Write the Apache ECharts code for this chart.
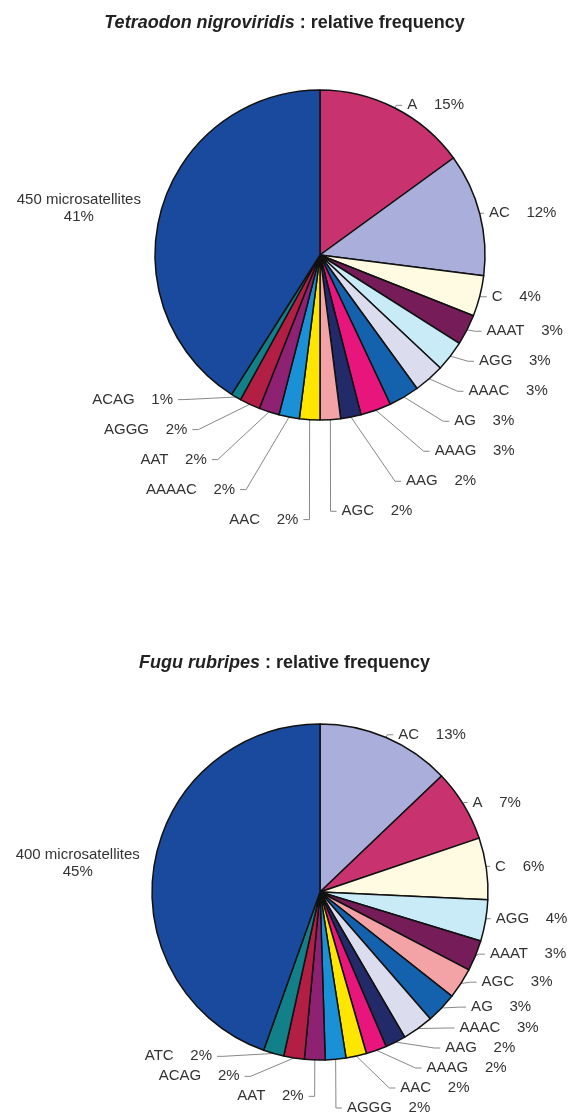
<!DOCTYPE html>
<html>
<head>
<meta charset="utf-8">
<script src="https://cdn.jsdelivr.net/npm/echarts@6/dist/echarts.min.js"></script>
<style>
html,body{margin:0;padding:0;background:#fff;}
#chart{width:569px;height:1118px;}
</style>
</head>
<body>
<div id="chart"></div>
<script>
// Tetraodon nigroviridis (clockwise from 12 o'clock)
const tetraNames = ['A','AC','C','AAAT','AGG','AAAC','AG','AAAG','AAG','AGC','AAC','AAAAC','AAT','AGGG','ACAG','450 microsatellites'];
const tetraValues = [15,12,4,3,3,3,3,3,2,2,2,2,2,2,1,41];
// Fugu rubripes (clockwise from 12 o'clock)
const fuguNames = ['AC','A','C','AGG','AAAT','AGC','AG','AAAC','AAG','AAAG','AAC','AGGG','AAT','ACAG','ATC','400 microsatellites'];
const fuguValues = [13,7,6,4,3,3,3,3,2,2,2,2,2,2,2,45];

const FONT = 'Liberation Sans, Arial, sans-serif';
const colorOf = {
  'A':'#c8326e','AC':'#a9aedb','C':'#fffbe2','AAAT':'#761d59','AGG':'#c9ebf7',
  'AAAC':'#dcdcef','AG':'#1462ae','AAAG':'#e8157c','AAG':'#232a6a','AGC':'#f3a3a6',
  'AAC':'#ffe600','AAAAC':'#1a90d6','AAT':'#8e2171','AGGG':'#b31f44','ACAG':'#128088',
  'ATC':'#128088','big':'#1a4a9e'
};
const fuguColor = Object.assign({}, colorOf, {'AGGG':'#1a90d6','ACAG':'#b31f44','ATC':'#128088'});

function buildData(names, values, cmap){
  return names.map((n,i)=>{
    const big = n.indexOf('microsatellites') >= 0;
    const d = {name:n, value:values[i], itemStyle:{color: big ? cmap.big : cmap[n]}};
    if (big) {
      d.label = {formatter: '{a|' + n + '}\n{a|' + values[i] + '%}',
        rich:{a:{width:140, align:'center', fontSize:15, color:'#333', lineHeight:17, fontFamily:FONT}}};
      d.labelLine = {show:false};
    }
    return d;
  });
}

function pieSeries(names, values, cmap, center, radius, lh){
  return {
    type:'pie', center:center, radius:radius, startAngle:90, clockwise:true,
    animation:false, avoidLabelOverlap:true,
    itemStyle:{borderColor:'#111', borderWidth:1.5},
    label:{show:true, position:'outside', formatter:'{b}    {c}%', fontSize:15, color:'#333',
      lineHeight:lh, overflow:'none', fontFamily:FONT},
    labelLine:{show:true, length:3, length2:6, lineStyle:{color:'#888', width:1}},
    emphasis:{disabled:true},
    data: buildData(names, values, cmap)
  };
}

const titleRich = {
  i:{fontStyle:'italic', fontSize:18, color:'#222', fontFamily:FONT},
  b:{fontWeight:'bold', fontSize:18, color:'#222', fontFamily:FONT}
};

const chart = echarts.init(document.getElementById('chart'), null, {renderer:'canvas'});
chart.setOption({
  backgroundColor:'#fff',
  title:[
    {text:'{i|Tetraodon nigroviridis}{b| : relative frequency}', left:'center', top:9, textStyle:{rich:titleRich}},
    {text:'{i|Fugu rubripes}{b| : relative frequency}', left:'center', top:649, textStyle:{rich:titleRich}}
  ],
  series:[
    pieSeries(tetraNames, tetraValues, colorOf, [320,255], 165, 28),
    pieSeries(fuguNames, fuguValues, fuguColor, [320,892], 168, 18)
  ]
});
</script>
</body>
</html>
